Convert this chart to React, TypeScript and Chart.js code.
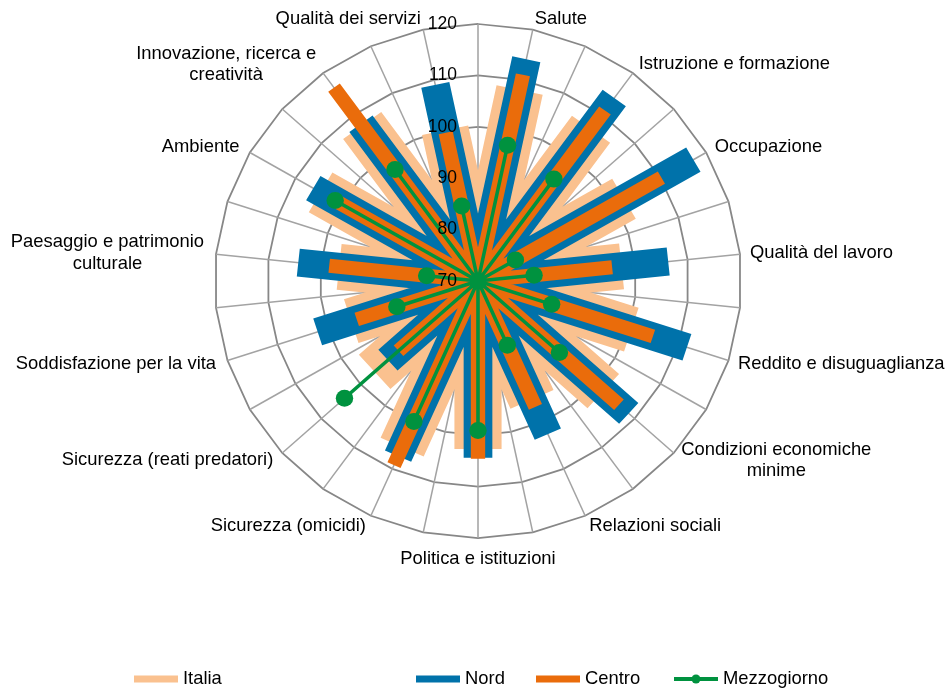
import React, { useEffect, useRef } from "react";
import { Chart, registerables } from "chart.js";

Chart.register(...registerables);

// ---- data ----
const categories: (string | string[])[] = [
  "Salute",
  "Istruzione e formazione",
  "Occupazione",
  "Qualità del lavoro",
  "Reddito e disuguaglianza",
  ["Condizioni economiche", "minime"],
  "Relazioni sociali",
  "Politica e istituzioni",
  "Sicurezza (omicidi)",
  "Sicurezza (reati predatori)",
  "Soddisfazione per la vita",
  ["Paesaggio e patrimonio", "culturale"],
  "Ambiente",
  ["Innovazione, ricerca e", "creatività"],
  "Qualità dei servizi",
];
const italia = [108, 106.5, 102, 97.4, 100.6, 102, 95.2, 102.7, 105.4, 96.4, 95.3, 96.5, 104.5, 107.4, 100];
const nord = [114.1, 114, 117.2, 106.3, 111.7, 108.5, 102.6, 104.4, 107.3, 93, 102, 104.3, 106.1, 107.8, 109];
const centro = [111, 111, 110.2, 95.6, 104.9, 106, 96.8, 104.6, 109.2, 90.3, 94.2, 98.4, 101, 116.5, 99.5];
const mezzogiorno = [97, 94.5, 78.2, 80.7, 84.7, 90.8, 83.7, 99.1, 99.9, 104.1, 86.2, 79.8, 101.3, 96.8, 84.9];
const seriesNames = ["Italia", "Nord", "Centro", "Mezzogiorno"];
const tickValues = [70, 80, 90, 100, 110, 120];
const scaleMin = 70;
const scaleMax = 120;

// ---- styles ----
const COLORS = ["#FAC18F", "#0072AA", "#EA6C0B", "#00923F"];
const WIDTHS = [46, 28, 14, 3.5];
const FONT = '"Liberation Sans", Arial, Helvetica, sans-serif';
const CX = 478;
const CY = 281;
const RADIUS = 257;
const SX = 1.025;
const LEGEND_X = [134, 416, 536, 674];
const LEGEND_Y = 679;

// spokes: each category sits between two "centre" points so every series is drawn
// as a thick line from the centre out to its value and back
const labels: (string | string[])[] = [];
categories.forEach((c) => {
  labels.push("");
  labels.push(c);
});
const spoke = (vals: number[]) => {
  const out: number[] = [];
  vals.forEach((v) => {
    out.push(scaleMin);
    out.push(v);
  });
  return out;
};

const customPlugin = {
  id: "customDraw",
  beforeDraw(chart: any) {
    const ctx = chart.ctx;
    ctx.save();
    ctx.translate(CX, CY);
    ctx.scale(SX, 1);
    ctx.translate(-CX, -CY);
  },
  afterDatasetsDraw(chart: any) {
    chart.ctx.restore();
  },
  afterDraw(chart: any) {
    const ctx = chart.ctx;
    const scale = chart.scales.r;
    ctx.save();
    // tick labels
    ctx.font = `17.5px ${FONT}`;
    ctx.fillStyle = "#000";
    ctx.textAlign = "right";
    ctx.textBaseline = "middle";
    tickValues.forEach((v) => {
      const d = scale.getDistanceFromCenterForValue(v);
      ctx.fillText(String(v), scale.xCenter - 21, scale.yCenter - d);
    });
    // point labels
    ctx.font = `18.4px ${FONT}`;
    ctx.textAlign = "center";
    (chart.data.labels as any[]).forEach((lab, i) => {
      if (!lab || (Array.isArray(lab) && lab.length === 0)) return;
      const lines: string[] = Array.isArray(lab) ? lab : [lab];
      const a = scale.getIndexAngle(i);
      const s = Math.sin(a);
      const c = Math.cos(a);
      const ax = scale.xCenter + SX * scale.drawingArea * s;
      const ay = scale.yCenter - scale.drawingArea * c;
      const w = Math.max(...lines.map((l) => ctx.measureText(l).width));
      let bx: number;
      if (Math.abs(s) < 0.01) bx = ax;
      else if (s > 0) bx = ax + 10 * s + w / 2;
      else bx = ax + 12 * s - w / 2;
      const by = Math.abs(s) < 0.01 && c < 0 ? ay + 21 : ay - c * 11;
      const lh = 21.5;
      lines.forEach((l, k) => {
        ctx.fillText(l, bx, by + (k - (lines.length - 1) / 2) * lh);
      });
    });
    // legend
    ctx.textAlign = "left";
    chart.data.datasets.forEach((ds: any, i: number) => {
      const x = LEGEND_X[i];
      ctx.strokeStyle = ds.borderColor;
      ctx.lineCap = "butt";
      ctx.lineWidth = i === 3 ? 4 : 7;
      ctx.beginPath();
      ctx.moveTo(x, LEGEND_Y);
      ctx.lineTo(x + 44, LEGEND_Y);
      ctx.stroke();
      if (i === 3) {
        ctx.fillStyle = ds.borderColor;
        ctx.beginPath();
        ctx.arc(x + 22, LEGEND_Y, 4.5, 0, Math.PI * 2);
        ctx.fill();
      }
      ctx.fillStyle = "#000";
      ctx.fillText(ds.label, x + 49, LEGEND_Y);
    });
    ctx.restore();
  },
};

export default function App() {
  const ref = useRef<HTMLCanvasElement | null>(null);
  useEffect(() => {
    if (!ref.current) return;
    const all = [italia, nord, centro, mezzogiorno];
    const chart = new Chart(ref.current, {
      type: "radar",
      data: {
        labels,
        datasets: all.map((vals, i) => ({
          label: seriesNames[i],
          data: spoke(vals),
          borderColor: COLORS[i],
          backgroundColor: COLORS[i],
          borderWidth: WIDTHS[i],
          borderJoinStyle: "bevel" as const,
          borderCapStyle: "butt" as const,
          fill: false,
          tension: 0,
          order: 4 - i,
          pointRadius: i === 3 ? (ctx: any) => (ctx.dataIndex % 2 === 1 ? 8.5 : 0) : 0,
          pointBackgroundColor: COLORS[i],
          pointBorderColor: COLORS[i],
          pointBorderWidth: 0,
          pointHoverRadius: 0,
        })),
      },
      options: {
        responsive: false,
        animation: false,
        events: [],
        layout: { padding: 0 },
        plugins: {
          legend: { display: false },
          tooltip: { enabled: false },
          title: { display: false },
        },
        scales: {
          r: {
            min: scaleMin,
            max: scaleMax,
            startAngle: 0,
            ticks: { display: false, stepSize: 10 },
            pointLabels: { display: false },
            grid: { color: "#878787", lineWidth: 1.75 },
            angleLines: { color: "#a3a3a3", lineWidth: 1.5 },
            afterFit: (scale: any) => {
              scale.xCenter = CX;
              scale.yCenter = CY;
              scale.drawingArea = RADIUS;
            },
          },
        },
      },
      plugins: [customPlugin],
    } as any);
    return () => chart.destroy();
  }, []);
  return (
    <div style={{ position: "absolute", left: 0, top: 0, width: 947, height: 688, background: "#fff" }}>
      <canvas ref={ref} width={947} height={688} style={{ display: "block" }} />
    </div>
  );
}
